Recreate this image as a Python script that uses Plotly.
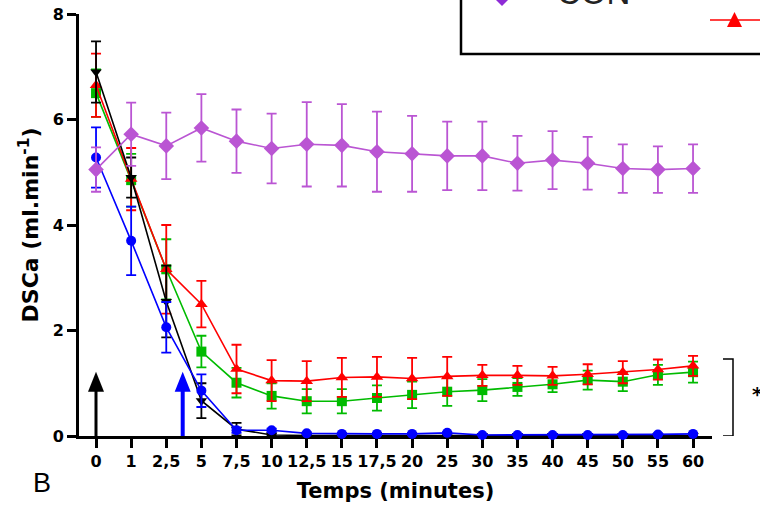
import plotly.graph_objects as go

# ---- data ----
times = ["0", "1", "2,5", "5", "7,5", "10", "12,5", "15", "17,5", "20",
         "25", "30", "35", "40", "45", "50", "55", "60"]

con = [5.05, 5.72, 5.50, 5.84, 5.59, 5.45, 5.53, 5.51, 5.39, 5.35,
       5.31, 5.31, 5.17, 5.23, 5.17, 5.07, 5.05, 5.07]
con_err = [0.42, 0.60, 0.63, 0.64, 0.60, 0.66, 0.80, 0.78, 0.76, 0.72,
           0.65, 0.65, 0.52, 0.55, 0.50, 0.46, 0.44, 0.46]

red = [6.65, 4.87, 3.16, 2.50, 1.27, 1.05, 1.04, 1.11, 1.12, 1.09,
       1.13, 1.15, 1.15, 1.14, 1.17, 1.21, 1.26, 1.33]
red_err = [0.60, 0.59, 0.84, 0.44, 0.46, 0.39, 0.38, 0.37, 0.38, 0.39,
           0.37, 0.20, 0.18, 0.17, 0.19, 0.21, 0.19, 0.19]

green = [6.50, 4.85, 3.16, 1.60, 1.01, 0.76, 0.66, 0.66, 0.72, 0.78,
         0.84, 0.87, 0.93, 0.98, 1.06, 1.03, 1.16, 1.21]
green_err = [0.45, 0.50, 0.57, 0.30, 0.28, 0.24, 0.23, 0.23, 0.24, 0.25,
             0.27, 0.21, 0.17, 0.15, 0.18, 0.18, 0.19, 0.20]

black = [6.90, 4.90, 2.55, 0.67, 0.13, 0.02, 0.01, 0.01, 0.01, 0.01,
         0.01, 0.01, 0.01, 0.01, 0.01, 0.01, 0.01, 0.01]
black_err = [0.58, 0.38, 0.68, 0.33, 0.12, 0.02, 0.01, 0.01, 0.01, 0.01,
             0.01, 0.01, 0.01, 0.01, 0.01, 0.01, 0.01, 0.01]

blue = [5.28, 3.70, 2.06, 0.86, 0.11, 0.11, 0.05, 0.04, 0.04, 0.04,
        0.06, 0.02, 0.02, 0.02, 0.02, 0.02, 0.03, 0.04]
blue_err = [0.57, 0.65, 0.48, 0.31, 0.05, 0.03, 0.02, 0.02, 0.02, 0.02,
            0.02, 0.02, 0.02, 0.02, 0.02, 0.02, 0.02, 0.02]

y_ticks = [0, 2, 4, 6, 8]

# ---- style ----
PURPLE = "#BA55D3"
RED = "#FF0000"
GREEN = "#00BB00"
BLUE = "#0000FF"
BLACK = "#000000"
TICK_FONT = dict(family="DejaVu Sans", size=16, color="black", weight="bold")

fig = go.Figure()

def add_series(name, vals, errs, color, symbol, size):
    fig.add_trace(go.Scatter(
        x=times, y=vals, name=name, mode="lines+markers",
        line=dict(color=color, width=1.6),
        marker=dict(symbol=symbol, size=size, color=color),
        error_y=dict(type="data", array=errs, visible=True,
                     color=color, thickness=1.8, width=5),
        cliponaxis=False, showlegend=False,
    ))

add_series("Vert", green, green_err, GREEN, "square", 10)
add_series("Rouge", red, red_err, RED, "triangle-up", 11)
add_series("Noir", black, black_err, BLACK, "triangle-down", 10)
add_series("Bleu", blue, blue_err, BLUE, "circle", 10)
add_series("CON", con, con_err, PURPLE, "diamond", 12)

W, H = 760, 513
L, T = 79, 14
PW, PH = 633, 422
R, B = W - L - PW, H - T - PH

# helpers: window pixel -> paper coordinates
def px(x):
    return (x - L) / PW

def py(y):
    return (T + PH - y) / PH

arrow_tip, arrow_base = 1.22, 0.84

def arrow_shapes(xw, color, shaft, half):
    return [
        dict(type="line", xref="paper", yref="y",
             x0=px(xw), x1=px(xw), y0=0, y1=arrow_base + 0.05,
             line=dict(color=color, width=shaft)),
        dict(type="path", xref="paper", yref="y",
             path=f"M{px(xw)},{arrow_tip} L{px(xw + half)},{arrow_base} "
                  f"L{px(xw - half)},{arrow_base} Z",
             fillcolor=color, line=dict(width=0)),
    ]

shapes = [
    # cropped legend box
    dict(type="rect", xref="paper", yref="paper",
         x0=px(461), x1=px(780), y0=py(54), y1=py(-30),
         line=dict(color="black", width=2.5), fillcolor="rgba(0,0,0,0)"),
    # legend purple diamond
    dict(type="path", xref="paper", yref="paper",
         path=f"M{px(502)},{py(-14)} L{px(512)},{py(-4)} L{px(502)},{py(6)} L{px(492)},{py(-4)} Z",
         fillcolor="#8E2BD6", line=dict(width=0)),
    # legend red line + triangle
    dict(type="line", xref="paper", yref="paper",
         x0=px(710), x1=px(765), y0=py(20), y1=py(20),
         line=dict(color=RED, width=1.5)),
    dict(type="path", xref="paper", yref="paper",
         path=f"M{px(734.5)},{py(12)} L{px(742)},{py(27)} L{px(727)},{py(27)} Z",
         fillcolor=RED, line=dict(width=0)),
    # significance bracket
    dict(type="path", xref="paper", yref="y",
         path=f"M{px(723)},1.46 L{px(733)},1.46 L{px(733)},0 L{px(723)},0",
         line=dict(color="black", width=1.5)),
]
shapes += arrow_shapes(96, BLACK, 3, 8)
shapes += arrow_shapes(182.7, BLUE, 4, 8)

annotations = [
    # legend text (cropped at the top edge, as in the source)
    dict(x=px(593), y=py(-8), xref="paper", yref="paper", text="CON",
         showarrow=False, xanchor="center", yanchor="middle",
         font=dict(family="Liberation Sans, Arial", size=33, color="#222222")),
    # star
    dict(x=px(757), y=0.8, xref="paper", yref="y", text="*",
         showarrow=False, xanchor="center", yanchor="middle",
         font=dict(family="DejaVu Sans", size=20, color="black", weight="bold")),
    # panel letter
    dict(x=px(42), y=py(483), xref="paper", yref="paper", text="B",
         showarrow=False, xanchor="center", yanchor="middle",
         font=dict(family="Liberation Sans, Arial", size=27, color="black")),
]

fig.update_layout(
    width=W, height=H,
    margin=dict(l=L, r=R, t=T, b=B, autoexpand=False),
    paper_bgcolor="white", plot_bgcolor="white",
    shapes=shapes, annotations=annotations,
    xaxis=dict(
        type="category", categoryorder="array", categoryarray=times,
        range=[-0.485, 17.54],
        showline=True, linecolor="black", linewidth=3,
        ticks="outside", ticklen=9, tickwidth=3, tickcolor="black",
        tickfont=TICK_FONT, showgrid=False, zeroline=False,
        layer="below traces",
        title=dict(text="Temps (minutes)", standoff=14,
                   font=dict(family="DejaVu Sans", size=21, color="black", weight="bold")),
    ),
    yaxis=dict(
        range=[0, 8], tickvals=y_ticks, ticklabeloverflow="allow",
        showline=True, linecolor="black", linewidth=3,
        ticks="outside", ticklen=9, tickwidth=3, tickcolor="black",
        tickfont=TICK_FONT, showgrid=False, zeroline=False,
        layer="below traces",
        title=dict(text="DSCa (ml.min<sup>-1</sup>)", standoff=8,
                   font=dict(family="DejaVu Sans", size=22, color="black", weight="bold")),
    ),
)

# remove the default 8px page margin so the 760x513 figure fills the window
fig.write_html("out.html", config={"displayModeBar": False},
               post_script="document.body.style.margin='0px';")
